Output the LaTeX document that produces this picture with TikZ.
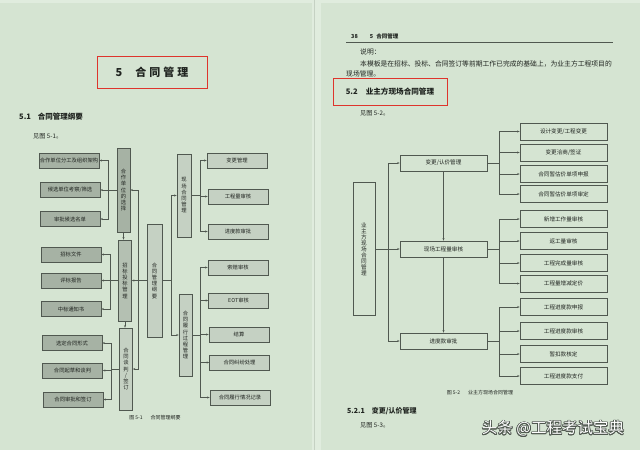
\documentclass[tikz,border=0pt]{standalone}
\usepackage{fontspec}
\setmainfont{Noto Sans CJK SC}
\usepackage{contour}
\usetikzlibrary{arrows.meta, positioning}

\definecolor{paper}{RGB}{213,228,210}
\definecolor{paperlight}{RGB}{224,236,222}
\definecolor{boxdark}{RGB}{166,178,164}
\definecolor{boxmid}{RGB}{180,192,178}
\definecolor{boxlight}{RGB}{197,209,195}
\definecolor{linec}{RGB}{80,88,80}
\definecolor{inkc}{RGB}{32,36,32}
\definecolor{redc}{RGB}{222,52,44}

\contourlength{0.7pt}

\begin{document}
\begin{tikzpicture}[x=1pt, y=-1pt,
    every node/.style={text=inkc},
    box/.style={draw=linec, line width=0.5pt, inner sep=0pt, font=\fontsize{5.3}{6.2}\selectfont},
    lbox/.style={box, fill=boxdark, minimum width=60, minimum height=15},
    gbox/.style={box, fill=boxlight, minimum width=60, minimum height=15},
    vbox/.style={box, align=center, minimum width=13},
    mbox/.style={box, fill=paper, minimum width=87, minimum height=16, font=\fontsize{5.6}{6.6}\selectfont},
    rbox/.style={box, fill=paper, minimum width=87, minimum height=17, font=\fontsize{5.6}{6.6}\selectfont},
    link/.style={draw=linec, line width=0.5pt},
    arr/.style={link, -{Stealth[length=2.6pt, width=2pt]}},
    body/.style={anchor=west, inner sep=0pt, font=\fontsize{6.8}{8}\selectfont},
    head/.style={anchor=west, inner sep=0pt, font=\fontsize{7.5}{9}\selectfont\bfseries},
    redframe/.style={draw=redc, line width=1pt, inner sep=0pt},
    caption/.style={inner sep=0pt, font=\fontsize{5}{6}\selectfont}]

  \useasboundingbox (0,0) rectangle (640,450);
  \fill[paper] (0,0) rectangle (640,450);
  \fill[paperlight] (0,0) rectangle (640,3);
  \fill[paperlight] (312,0) rectangle (321,450);
  \draw[boxlight, line width=0.6pt] (314,0) -- (314,450);

  % left page
  \node[redframe, minimum width=110, minimum height=32, font=\fontsize{11}{13}\selectfont\bfseries]
    (chapTitle) at (152,72) {5\hspace{13pt}合\hspace{3pt}同\hspace{3pt}管\hspace{3pt}理};
  \node[head] (secOne) at (19,117) {5.1\hspace{7pt}合同管理纲要};
  \node[body, font=\fontsize{6.2}{7}\selectfont] (seeOne) at (33,136) {见图 5-1。};

  % figure 5-1
  \node[lbox] (fenGong) at (69,160.5) {合作单位分工及组织架构};
  \node[lbox] (kaoCha) at (70,190) {候选单位考察/筛选};
  \node[lbox] (mingDan) at (70,219) {审批候选名单};
  \node[lbox] (wenJian) at (71,254.5) {招标文件};
  \node[lbox] (baoGao) at (71,280.5) {评标报告};
  \node[lbox] (tongZhi) at (71,309) {中标通知书};
  \node[lbox] (xingShi) at (72,343) {选定合同形式};
  \node[lbox] (qiCao) at (72.5,370.5) {合同起草和谈判};
  \node[lbox] (qianDing) at (73,399.5) {合同审批和签订};

  \node[vbox, fill=boxdark, minimum height=84] (xuanZe) at (123.5,190) {合\\作\\单\\位\\的\\选\\择};
  \node[vbox, fill=boxmid, minimum height=81] (zhaoBiao) at (125,280.5) {招\\标\\投\\标\\管\\理};
  \node[vbox, fill=boxlight, minimum height=82] (tanPan) at (126,369) {合\\同\\谈\\判\\/\\签\\订};

  \node[vbox, fill=boxlight, minimum width=15, minimum height=113] (gangYao) at (154.5,280.5) {合\\同\\管\\理\\纲\\要};

  \node[vbox, fill=boxlight, minimum width=14, minimum height=83] (xianChang) at (184,195.5) {现\\场\\合\\同\\管\\理};
  \node[vbox, fill=boxlight, minimum height=82] (lvXing) at (185.5,335) {合\\同\\履\\行\\过\\程\\管\\理};

  \node[gbox] (bianGeng) at (237,160.5) {变更管理};
  \node[gbox] (gongLiang) at (238,196.5) {工程量审核};
  \node[gbox] (jinDu) at (238,231.5) {进度款审批};
  \node[gbox] (suoPei) at (238,267.5) {索赔审核};
  \node[gbox] (eotShen) at (238.5,300.5) {EOT审核};
  \node[gbox] (jieSuan) at (239,334.5) {结算};
  \node[gbox] (jiuFen) at (239.5,362.5) {合同纠纷处理};
  \node[gbox] (jiLu) at (240,397.5) {合同履行情况记录};

  \draw[link] (xuanZe.west) -- ++(-9,0) coordinate (trunkA);
  \foreach \n in {fenGong, kaoCha, mingDan}
    \draw[arr] (trunkA) |- (\n.east);
  \draw[link] (zhaoBiao.west) -- ++(-8.5,0) coordinate (trunkB);
  \foreach \n in {wenJian, baoGao, tongZhi}
    \draw[arr] (trunkB) |- (\n.east);
  \draw[link] (tanPan.west) -- ++(-8.5,0) coordinate (trunkC);
  \foreach \n in {xingShi, qiCao, qianDing}
    \draw[arr] (trunkC) |- (\n.east);

  \draw[arr] (xuanZe.south) -- (xuanZe.south |- zhaoBiao.north);
  \draw[arr] (zhaoBiao.south) -- (zhaoBiao.south |- tanPan.north);

  \draw[link] (gangYao.west) -- ++(-9,0) coordinate (trunkD);
  \foreach \n in {xuanZe, zhaoBiao, tanPan}
    \draw[arr] (trunkD) |- (\n.east);
  \draw[link] (gangYao.east) -- ++(9,0) coordinate (trunkE);
  \foreach \n in {xianChang, lvXing}
    \draw[arr] (trunkE) |- (\n.west);

  \draw[link] (xianChang.east) -- ++(9,0) coordinate (trunkF);
  \foreach \n in {bianGeng, gongLiang, jinDu}
    \draw[arr] (trunkF) |- (\n.west);
  \draw[link] (lvXing.east) -- ++(8,0) coordinate (trunkG);
  \foreach \n in {suoPei, eotShen, jieSuan, jiuFen, jiLu}
    \draw[arr] (trunkG) |- (\n.west);

  \node[caption] (capOne) at (155,418) {图 5-1\hspace{8pt}合同管理纲要};

  % right page
  \node[anchor=west, inner sep=0pt, font=\fontsize{5.5}{6.5}\selectfont\bfseries] (pageNum) at (351,36) {38\hspace{12pt}5\hspace{3pt}合同管理};
  \draw[linec, line width=0.6pt] (346,42) -- (613,42);
  \node[body] (shuoMing) at (360,52) {说明：};
  \node[body] (lineOne) at (360,63.5) {本模板是在招标、投标、合同签订等前期工作已完成的基础上，为业主方工程项目的};
  \node[body] (lineTwo) at (346,73.5) {现场管理。};
  \node[redframe, minimum width=114, minimum height=27, font=\fontsize{7.6}{9}\selectfont\bfseries]
    (secTwo) at (390,91.5) {5.2\hspace{8pt}业主方现场合同管理};
  \node[body, font=\fontsize{6.2}{7}\selectfont] (seeTwo) at (360,113) {见图 5-2。};

  % figure 5-2
  \node[vbox, fill=paper, minimum width=22, minimum height=133, font=\fontsize{5.6}{6}\selectfont] (yeZhu) at (364,249) {业\\主\\方\\现\\场\\合\\同\\管\\理};

  \node[mbox] (renJia) at (443.5,163) {变更/认价管理};
  \node[mbox] (xcLiang) at (443.5,249) {现场工程量审核};
  \node[mbox] (shenPi) at (443.5,341) {进度款审批};

  \node[rbox] (sheJi) at (563.5,131.5) {设计变更/工程变更};
  \node[rbox] (qiaShang) at (563.5,152.5) {变更洽商/签证};
  \node[rbox] (shenBao) at (563.5,174) {合同暂估价单项申报};
  \node[rbox] (shenDing) at (563.5,194) {合同暂估价单项审定};
  \node[rbox] (xinZeng) at (563.5,219) {新增工作量审核};
  \node[rbox] (fanGong) at (563.5,241) {返工量审核};
  \node[rbox] (wanCheng) at (563.5,263) {工程完成量审核};
  \node[rbox] (dingJia) at (563.5,283.5) {工程量增减定价};
  \node[rbox] (kuanBao) at (563.5,307) {工程进度款申报};
  \node[rbox] (kuanHe) at (563.5,331) {工程进度款审核};
  \node[rbox] (kouKuan) at (563.5,354) {暂扣款核定};
  \node[rbox] (zhiFu) at (563.5,376) {工程进度款支付};

  \draw[link] (yeZhu.east) -- ++(13,0) coordinate (trunkH);
  \foreach \n in {renJia, xcLiang, shenPi}
    \draw[arr] (trunkH) |- (\n.west);
  \draw[arr] (renJia) -- (xcLiang);
  \draw[arr] (xcLiang) -- (shenPi);

  \draw[link] (renJia.east) -- ++(12,0) coordinate (trunkI);
  \foreach \n in {sheJi, qiaShang, shenBao, shenDing}
    \draw[arr] (trunkI) |- (\n.west);
  \draw[link] (xcLiang.east) -- ++(12,0) coordinate (trunkJ);
  \foreach \n in {xinZeng, fanGong, wanCheng, dingJia}
    \draw[arr] (trunkJ) |- (\n.west);
  \draw[link] (shenPi.east) -- ++(12,0) coordinate (trunkK);
  \foreach \n in {kuanBao, kuanHe, kouKuan, zhiFu}
    \draw[arr] (trunkK) |- (\n.west);

  \node[caption] (capTwo) at (480,393) {图 5-2\hspace{8pt}业主方现场合同管理};

  \node[head, font=\fontsize{7}{8}\selectfont\bfseries] (secThree) at (347,411) {5.2.1\hspace{7pt}变更/认价管理};
  \node[body, font=\fontsize{6.2}{7}\selectfont] (seeThree) at (360,425) {见图 5-3。};

  \node[inner sep=0pt, text=white, font=\fontsize{15.5}{17}\selectfont] (mark) at (553,429) {\contour{linec}{头条 @工程考试宝典}};
\end{tikzpicture}
\end{document}
